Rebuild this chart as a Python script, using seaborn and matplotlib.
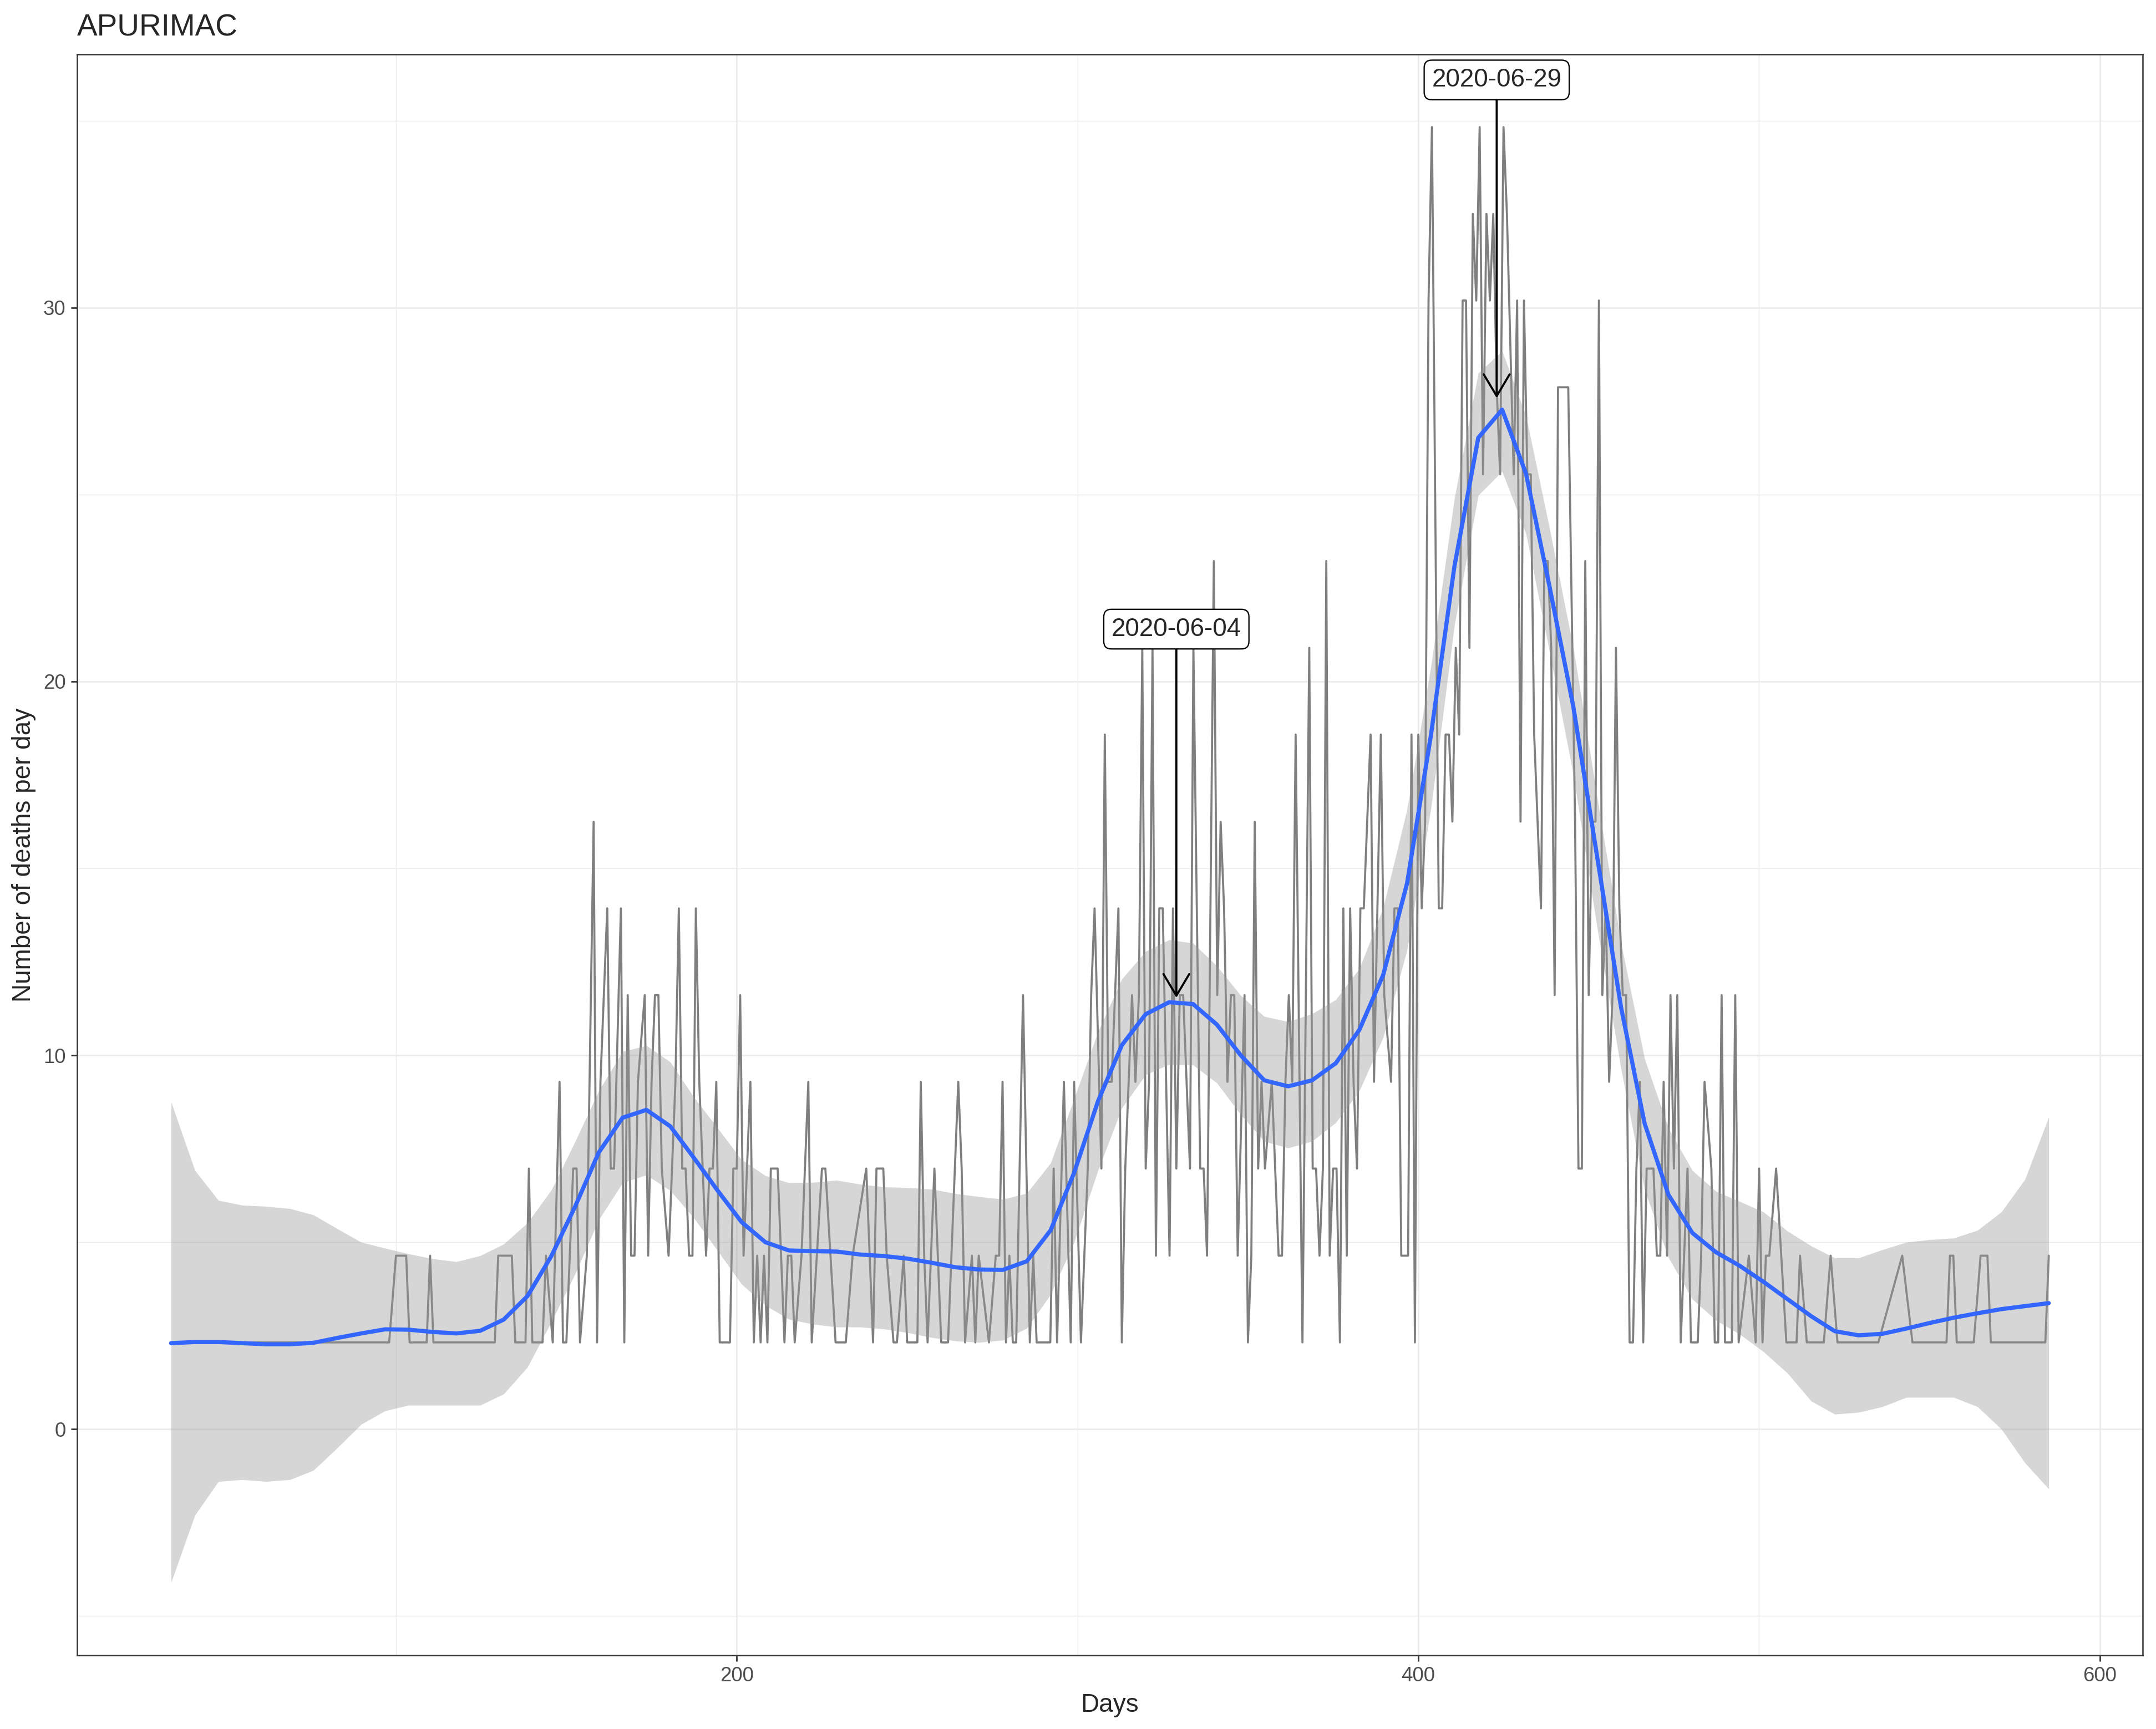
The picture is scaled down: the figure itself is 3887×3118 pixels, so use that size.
import matplotlib
matplotlib.use("Agg")
import matplotlib.pyplot as plt
from matplotlib.ticker import MultipleLocator
import seaborn as sns

# daily deaths (grey line)
days = [34, 45, 58, 70, 84, 98,
        100, 103, 104, 109, 110, 111, 129, 130, 134, 135, 138, 139, 140, 143,
        144, 146, 148, 149, 150, 152, 153, 154, 156, 158, 159, 160, 162, 163,
        164, 166, 167, 168, 169, 170, 171, 173, 174, 175, 176, 177, 178, 180,
        182, 183, 184, 185, 186, 187, 188, 189, 191, 192, 193, 194, 195, 198,
        199, 200, 201, 202, 204, 205, 206, 207, 208, 209, 210, 212, 214, 215,
        216, 217, 219, 221, 222, 225, 226, 229, 232, 234, 238, 240, 241, 243,
        244, 246, 247, 249, 250, 253, 254, 255, 256, 258, 260,
        262, 265, 266, 267, 269, 270, 271, 274, 276, 277, 278, 279, 280, 281,
        282, 284, 286, 287, 288, 292, 293, 294, 296, 298, 299, 301, 303, 304,
        305, 307, 308, 309, 310, 312, 313, 314, 316, 317, 318, 319, 320, 321,
        322, 323, 324, 325, 327, 328, 329, 330, 331, 333, 334,
        336, 337, 338, 340, 341, 342, 343, 344, 345, 346, 347, 349, 350, 351,
        352, 353, 354, 355, 357, 359, 360, 361, 362, 363, 364, 366, 368, 369,
        370, 371, 372, 373, 374, 375, 376, 377, 378, 379, 380, 381, 382, 383,
        384, 386, 387, 389, 390, 392, 393, 394, 395, 397,
        398, 399, 400, 401, 402, 403, 404, 406, 407, 408, 409, 410, 411, 412,
        413, 414, 415, 416, 417, 418, 419, 420, 421, 422, 423, 424, 425, 426,
        428, 429, 430, 431, 432, 433, 434, 436, 437, 438, 439, 440, 441, 444,
        446, 447, 448, 449, 450, 451, 452, 453, 454,
        455, 456, 457, 458, 459, 460, 461, 462, 463, 464, 465, 466, 467, 469,
        470, 471, 472, 473, 474, 475, 476, 477, 479, 480, 482, 483, 484, 486,
        487, 488, 489, 490, 492, 493, 494, 497, 499, 500, 501, 502, 503, 505,
        508, 511, 512, 514, 519, 521, 523, 535, 542, 545, 555, 556, 557, 558,
        563, 565, 567, 568, 584, 585]

deaths = [2.32, 2.32, 2.32, 2.32, 2.32, 2.32,
          4.64, 4.64, 2.32, 2.32, 4.64, 2.32, 2.32, 4.64, 4.64, 2.32, 2.32, 6.97, 2.32, 2.32,
          4.64, 2.32, 9.29, 2.32, 2.32, 6.97, 6.97, 2.32, 4.64, 16.25, 2.32, 9.29, 13.93, 6.97,
          6.97, 13.93, 2.32, 11.61, 4.64, 4.64, 9.29, 11.61, 4.64, 9.29, 11.61, 11.61, 6.97, 4.64,
          9.29, 13.93, 6.97, 6.97, 4.64, 4.64, 13.93, 9.29, 4.64, 6.97, 6.97, 9.29, 2.32, 2.32,
          6.97, 6.97, 11.61, 4.64, 9.29, 2.32, 4.64, 2.32, 4.64, 2.32, 6.97, 6.97, 2.32, 4.64,
          4.64, 2.32, 4.64, 9.29, 2.32, 6.97, 6.97, 2.32, 2.32, 4.64, 6.97, 2.32, 6.97, 6.97,
          4.64, 2.32, 2.32, 4.64, 2.32, 2.32, 9.29, 4.64, 2.32, 6.97, 2.32,
          2.32, 9.29, 6.97, 2.32, 4.64, 2.32, 4.64, 2.32, 4.64, 4.64, 9.29, 2.32, 4.64, 2.32,
          2.32, 11.61, 2.32, 4.64, 2.32, 2.32, 6.97, 2.32, 9.29, 2.32, 9.29, 2.32, 6.97, 11.61,
          13.93, 6.97, 18.58, 9.29, 9.29, 13.93, 2.32, 6.97, 11.61, 9.29, 11.61, 20.9, 6.97, 9.29,
          20.9, 4.64, 13.93, 13.93, 4.64, 13.93, 6.97, 11.61, 11.61, 6.97, 20.9,
          6.97, 6.97, 4.64, 23.22, 11.61, 16.25, 13.93, 9.29, 11.61, 11.61, 4.64, 11.61, 2.32, 4.64,
          16.25, 6.97, 9.29, 6.97, 9.29, 4.64, 4.64, 9.29, 11.61, 9.29, 18.58, 2.32, 20.9, 6.97,
          6.97, 4.64, 6.97, 23.22, 4.64, 6.97, 6.97, 2.32, 13.93, 4.64, 13.93, 9.29, 6.97, 13.93,
          13.93, 18.58, 9.29, 18.58, 11.61, 9.29, 13.93, 13.93, 4.64, 4.64,
          18.58, 2.32, 18.58, 13.93, 16.25, 30.19, 34.83, 13.93, 13.93, 18.58, 18.58, 16.25, 20.9, 18.58,
          30.19, 30.19, 20.9, 32.51, 30.19, 34.83, 25.54, 32.51, 30.19, 32.51, 27.87, 25.54, 34.83, 32.51,
          25.54, 30.19, 16.25, 30.19, 25.54, 25.54, 18.58, 13.93, 23.22, 23.22, 20.9, 11.61, 27.87, 27.87,
          16.25, 6.97, 6.97, 23.22, 11.61, 16.25, 16.25, 30.19, 11.61,
          13.93, 9.29, 11.61, 20.9, 13.93, 11.61, 11.61, 2.32, 2.32, 6.97, 9.29, 2.32, 6.97, 6.97,
          4.64, 4.64, 9.29, 4.64, 11.61, 6.97, 11.61, 2.32, 6.97, 2.32, 2.32, 4.64, 9.29, 6.97,
          2.32, 2.32, 11.61, 2.32, 2.32, 11.61, 2.32, 4.64, 2.32, 6.97, 2.32, 4.64, 4.64, 6.97,
          2.32, 2.32, 4.64, 2.32, 2.32, 4.64, 2.32, 2.32, 4.64, 2.32, 2.32, 4.64, 4.64, 2.32,
          2.32, 4.64, 4.64, 2.32, 2.32, 4.64]

# loess fit with its confidence band (blue line, grey ribbon)
smooth_days = [34.0, 41.0, 47.9, 54.9, 61.9, 68.9, 75.8, 82.8, 89.8, 96.8,
               103.7, 110.7, 117.7, 124.7, 131.6, 138.6, 145.6, 152.6, 159.5, 166.5,
               173.5, 180.5, 187.4, 194.4, 201.4, 208.4, 215.3, 222.3, 229.3, 236.3,
               243.2, 250.2, 257.2, 264.2, 271.1, 278.1, 285.1, 292.1, 299.0, 306.0,
               313.0, 320.0, 326.9, 333.9, 340.9, 347.9, 354.8, 361.8, 368.8, 375.8,
               382.7, 389.7, 396.7, 403.7, 410.6, 417.6, 424.6, 431.6, 438.5, 445.5,
               452.5, 459.5, 466.4, 473.4, 480.4, 487.4, 494.3, 501.3, 508.3, 515.3,
               522.2, 529.2, 536.2, 543.2, 550.1, 557.1, 564.1, 571.1, 578.0, 585.0]
smooth_fit = [2.30, 2.33, 2.33, 2.30, 2.27, 2.27, 2.31, 2.44, 2.56, 2.67,
              2.66, 2.60, 2.56, 2.63, 2.93, 3.56, 4.63, 5.96, 7.40, 8.33,
              8.54, 8.10, 7.26, 6.38, 5.54, 5.00, 4.78, 4.76, 4.75, 4.67,
              4.63, 4.56, 4.45, 4.33, 4.27, 4.26, 4.49, 5.32, 6.86, 8.77,
              10.27, 11.10, 11.42, 11.37, 10.82, 10.00, 9.33, 9.17, 9.33, 9.79,
              10.68, 12.15, 14.60, 18.56, 23.08, 26.52, 27.27, 25.56, 22.54, 19.32,
              15.30, 11.28, 8.18, 6.27, 5.25, 4.73, 4.37, 3.94, 3.48, 3.02,
              2.62, 2.51, 2.55, 2.69, 2.84, 2.98, 3.10, 3.21, 3.29, 3.37]
smooth_low = [-4.10, -2.30, -1.40, -1.35, -1.40, -1.35, -1.10, -0.50, 0.13, 0.49,
              0.64, 0.64, 0.64, 0.64, 0.94, 1.66, 2.87, 4.16, 5.60, 6.59,
              6.80, 6.38, 5.65, 4.77, 3.88, 3.31, 2.94, 2.81, 2.73, 2.73,
              2.68, 2.58, 2.45, 2.36, 2.32, 2.38, 2.70, 3.60, 5.00, 6.92,
              8.59, 9.48, 9.76, 9.74, 9.26, 8.41, 7.70, 7.52, 7.70, 8.20,
              9.05, 10.48, 12.82, 16.60, 21.50, 24.98, 25.62, 23.95, 20.80, 17.50,
              13.40, 9.63, 6.40, 4.59, 3.48, 2.91, 2.54, 2.07, 1.50, 0.75,
              0.40, 0.45, 0.60, 0.85, 0.85, 0.85, 0.60, 0.00, -0.90, -1.60]
smooth_high = [8.75, 6.92, 6.12, 5.99, 5.96, 5.90, 5.73, 5.36, 5.00, 4.84,
               4.69, 4.56, 4.48, 4.64, 4.95, 5.52, 6.40, 7.70, 9.05, 10.10,
               10.26, 9.82, 8.88, 8.05, 7.21, 6.78, 6.59, 6.60, 6.66, 6.55,
               6.48, 6.46, 6.42, 6.30, 6.22, 6.15, 6.31, 7.12, 8.84, 10.63,
               12.04, 12.78, 13.09, 13.00, 12.39, 11.60, 11.04, 10.90, 11.11, 11.49,
               12.32, 13.95, 16.58, 20.40, 24.90, 28.25, 28.84, 27.10, 24.10, 20.90,
               16.90, 13.00, 9.91, 8.05, 6.92, 6.36, 6.09, 5.81, 5.30, 4.90,
               4.58, 4.58, 4.80, 5.00, 5.07, 5.11, 5.32, 5.81, 6.68, 8.35]

# peak annotations
peak_labels = ["2020-06-04", "2020-06-29"]
peak_days = [329.0, 423.0]
peak_values = [11.54, 27.58]
label_values = [21.4, 36.09]

sns.set_style("white")
plt.rcParams["font.family"] = ["Liberation Sans", "DejaVu Sans"]

fig, ax = plt.subplots(figsize=(3887 / 300, 3118 / 300), dpi=300)
fig.subplots_adjust(left=0.0358, right=0.9938, bottom=0.0427, top=0.9686)

sns.lineplot(x=days, y=deaths, color="#7F7F7F", linewidth=0.9,
             estimator=None, ax=ax, zorder=2)
ax.fill_between(smooth_days, smooth_low, smooth_high, color="#999999",
                alpha=0.4, linewidth=0, zorder=3)
sns.lineplot(x=smooth_days, y=smooth_fit, color="#3366FF", linewidth=1.8,
             estimator=None, ax=ax, zorder=4)

for lab, d, v, lv in zip(peak_labels, peak_days, peak_values, label_values):
    ax.annotate(lab, xy=(d, v), xytext=(d, lv), ha="center", va="center",
                fontsize=11, zorder=6,
                bbox=dict(boxstyle="round,pad=0.3,rounding_size=0.3",
                          fc="white", ec="black", lw=0.55),
                arrowprops=dict(arrowstyle="->,head_length=0.47,head_width=0.28",
                                color="black", lw=0.9, mutation_scale=20,
                                shrinkA=0, shrinkB=0))

# ggplot-like expansion of 5% on both axes
xmin, xmax = min(days + smooth_days), max(days + smooth_days)
ymin, ymax = min(smooth_low + deaths), max(smooth_high + deaths)
ax.set_xlim(xmin - 0.05 * (xmax - xmin), xmax + 0.05 * (xmax - xmin))
ax.set_ylim(ymin - 0.05 * (ymax - ymin), ymax + 0.05 * (ymax - ymin))

ax.xaxis.set_major_locator(MultipleLocator(200))
ax.xaxis.set_minor_locator(MultipleLocator(100))
ax.yaxis.set_major_locator(MultipleLocator(10))
ax.yaxis.set_minor_locator(MultipleLocator(5))
ax.set_axisbelow(True)
ax.grid(which="major", color="#EBEBEB", linewidth=0.65)
ax.grid(which="minor", color="#EBEBEB", linewidth=0.33)
ax.tick_params(which="major", length=2.75, width=0.65, color="#333333",
               labelsize=8.8, labelcolor="#4D4D4D", pad=2.2,
               bottom=True, left=True)
ax.tick_params(which="minor", length=0)
for sp in ax.spines.values():
    sp.set_color("#333333")
    sp.set_linewidth(0.6)

ax.set_title("APURIMAC", loc="left", fontsize=13.2, pad=8)
ax.set_xlabel("Days", fontsize=11, labelpad=3)
ax.set_ylabel("Number of deaths per day", fontsize=11, labelpad=3)

fig.savefig("out.png", dpi=300)
